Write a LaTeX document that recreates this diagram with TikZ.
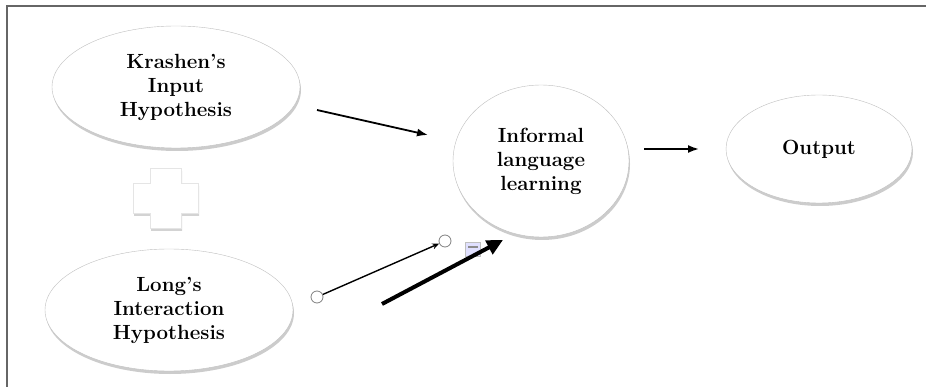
\documentclass[tikz,border=0pt]{standalone}
\usetikzlibrary{arrows.meta, shapes.geometric, shadows}
\colorlet{myframe}{black!60}
\colorlet{myrim}{black!25}
\colorlet{myicon}{blue!12}
\newcommand{\bubblefont}{\fontsize{20.5}{24}\selectfont\bfseries}
\tikzset{
  >=Latex,
  base bubble/.style={ellipse, draw=myrim, fill=white, inner sep=0pt, align=center, font=\bubblefont,
    drop shadow={shadow xshift=1pt, shadow yshift=-3pt, opacity=0.4}},
  wide bubble/.style={base bubble, minimum width=248pt, minimum height=122pt},
  round bubble/.style={base bubble, minimum width=176pt, minimum height=152pt},
  out bubble/.style={base bubble, minimum width=186pt, minimum height=108pt},
  flow arrow/.style={-{Latex[length=11pt, width=8pt]}, line width=1.8pt, black},
  bold arrow/.style={-{Triangle[length=16pt, width=15pt]}, line width=4pt, black},
  handle/.style={circle, draw=black!50, fill=white, thick, minimum size=12pt, inner sep=0pt},
  link arrow/.style={-{Stealth[length=7pt, width=6pt]}, line width=1.4pt, black}
}

\begin{document}
\begin{tikzpicture}[x=1pt, y=-1pt]

  \useasboundingbox (0,0) rectangle (926,387);

  % =========================================================
  % FRAME (only top and left edges are visible)
  % =========================================================
  \draw[myframe, line width=2pt] (7,387) -- (7,6) -- (926,6);

  % =========================================================
  % HYPOTHESES
  % =========================================================
  \node[wide bubble] (krashen) at (176, 87) {Krashen's\\Input\\Hypothesis};
  \node[wide bubble] (long) at (169, 310) {Long's\\Interaction\\Hypothesis};

  % Plus sign between the two
  \path[fill=white, draw=black!10, drop shadow={shadow xshift=1pt, shadow yshift=-3pt, opacity=0.35}]
    (150,168) -- (181,168) -- (181,183) -- (198,183) -- (198,213) -- (181,213)
    -- (181,228) -- (150,228) -- (150,213) -- (133,213) -- (133,183) -- (150,183) -- cycle;

  % =========================================================
  % LEARNING AND OUTPUT
  % =========================================================
  \node[round bubble] (informal) at (541, 161) {Informal\\language\\learning};
  \node[out bubble] (output) at (819, 149) {Output};

  % =========================================================
  % CONNECTORS
  % =========================================================
  \coordinate (k-start) at (317,110);
  \coordinate (k-end) at (428,135);
  \draw[flow arrow] (k-start) -- (k-end);

  \coordinate (o-start) at (644,149);
  \coordinate (o-end) at (699,149);
  \draw[flow arrow] (o-start) -- (o-end);

  % Selected connector with its two handles
  \node[handle] (h-start) at (317,297) {};
  \node[handle] (h-end) at (445,241) {};
  \draw[link arrow] (h-start) -- (h-end);

  % Layout icon
  \node[draw=black!25, fill=myicon, minimum width=15pt, minimum height=14pt, inner sep=0pt] (icon) at (473,249) {};
  \draw[black!45, line width=1.5pt] ([xshift=3pt, yshift=2pt]icon.west) -- ([xshift=-3pt, yshift=2pt]icon.east);

  % Thick arrow into informal learning
  \coordinate (t-start) at (382,304);
  \coordinate (t-end) at (503,240);
  \draw[bold arrow] (t-start) -- (t-end);

\end{tikzpicture}
\end{document}
